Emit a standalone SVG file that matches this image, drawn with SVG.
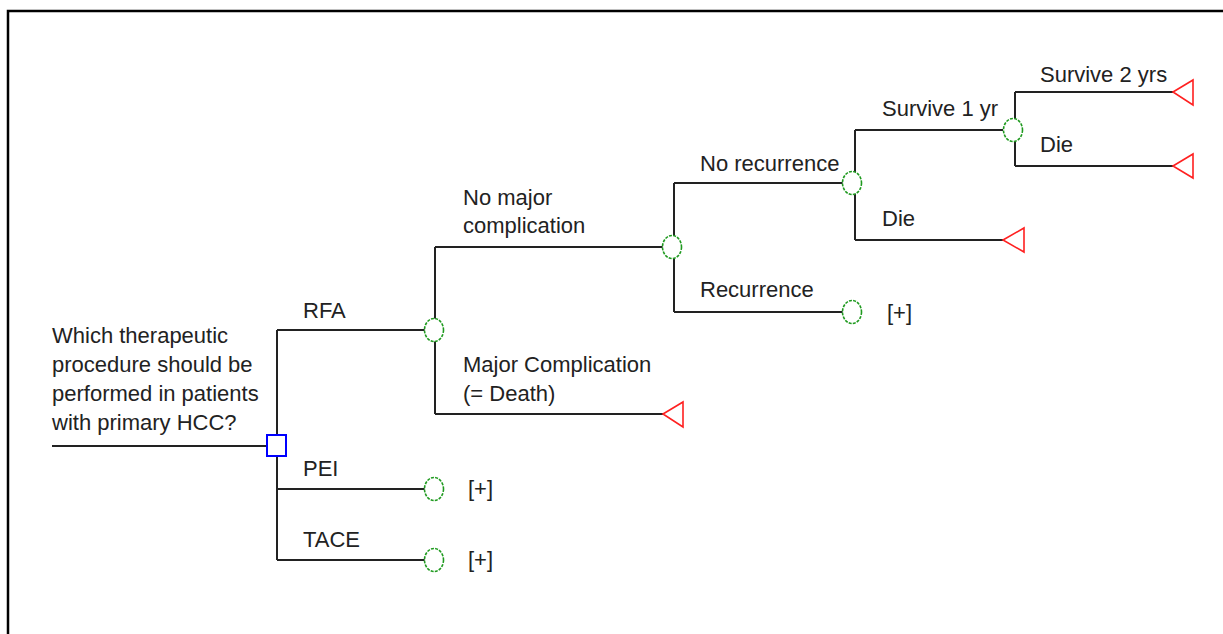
<svg xmlns="http://www.w3.org/2000/svg" width="1223" height="634" viewBox="0 0 1223 634">
<style>
.t{font-family:"Liberation Sans",Arial,sans-serif;font-size:22px;fill:#222}
.ln{stroke:#222;stroke-width:2;fill:none}
.ch{fill:#fff;stroke:#1f9a1f;stroke-width:1.6;stroke-dasharray:3 1.2}
.tm{fill:#fff;stroke:#ff2020;stroke-width:1.6}
.dc{fill:#fff;stroke:#0000ff;stroke-width:2}
</style>
<rect x="0" y="0" width="1223" height="634" fill="#fff"/>
<path d="M8 634V11H1223" stroke="#000" stroke-width="2.5" fill="none"/>
<g id="connectors" class="ln">
<path d="M52 446H267"/>
<path d="M277 330V560"/>
<path d="M277 330H425"/>
<path d="M277 489H425"/>
<path d="M277 560H425"/>
<path d="M435 247V414"/>
<path d="M435 247H663"/>
<path d="M435 414H663"/>
<path d="M674 183V312"/>
<path d="M674 183H843"/>
<path d="M674 312H843"/>
<path d="M855 130V240"/>
<path d="M855 130H1003"/>
<path d="M855 240H1003"/>
<path d="M1015 92V166"/>
<path d="M1015 92H1173"/>
<path d="M1015 166H1173"/>
</g>
<g id="root">
<text class="t" x="52" y="343">Which therapeutic</text>
<text class="t" x="52" y="372">procedure should be</text>
<text class="t" x="52" y="401">performed in patients</text>
<text class="t" x="52" y="430">with primary HCC?</text>
<rect class="dc" x="267" y="435" width="19" height="21"/>
</g>
<g id="rfa">
<text class="t" x="303" y="318">RFA</text>
<ellipse class="ch" cx="434" cy="330" rx="9.5" ry="11.5"/>
</g>
<g id="pei">
<text class="t" x="303" y="476">PEI</text>
<ellipse class="ch" cx="434" cy="489" rx="9.5" ry="11.5"/>
<text class="t" x="468" y="496">[+]</text>
</g>
<g id="tace">
<text class="t" x="303" y="547">TACE</text>
<ellipse class="ch" cx="434" cy="560" rx="9.5" ry="11.5"/>
<text class="t" x="468" y="567">[+]</text>
</g>
<g id="no-major">
<text class="t" x="463" y="205">No major</text>
<text class="t" x="463" y="233">complication</text>
<ellipse class="ch" cx="672" cy="247" rx="9.5" ry="11.5"/>
</g>
<g id="major">
<text class="t" x="463" y="372">Major Complication</text>
<text class="t" x="463" y="401">(= Death)</text>
<polygon class="tm" points="663,414 683,402 683,427"/>
</g>
<g id="no-recurrence">
<text class="t" x="700" y="171">No recurrence</text>
<ellipse class="ch" cx="852" cy="183" rx="9.5" ry="11.5"/>
</g>
<g id="recurrence">
<text class="t" x="700" y="297">Recurrence</text>
<ellipse class="ch" cx="852" cy="312" rx="9.5" ry="11.5"/>
<text class="t" x="887" y="320">[+]</text>
</g>
<g id="survive1">
<text class="t" x="882" y="116">Survive 1 yr</text>
<ellipse class="ch" cx="1013" cy="130" rx="9.5" ry="11.5"/>
</g>
<g id="die1">
<text class="t" x="882" y="226">Die</text>
<polygon class="tm" points="1003,240 1024,228 1024,252"/>
</g>
<g id="survive2">
<text class="t" x="1040" y="82">Survive 2 yrs</text>
<polygon class="tm" points="1173,92 1193,80 1193,105"/>
</g>
<g id="die2">
<text class="t" x="1040" y="152">Die</text>
<polygon class="tm" points="1173,166 1193,154 1193,178"/>
</g>
</svg>
